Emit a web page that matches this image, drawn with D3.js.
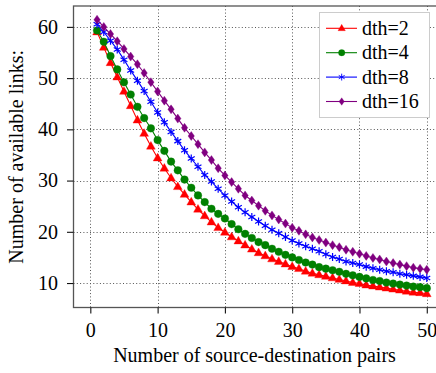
<!DOCTYPE html>
<html>
<head>
<meta charset="utf-8">
<script src="https://cdn.jsdelivr.net/npm/d3@7"></script>
<style>
  body { margin: 0; background: #fff; }
  svg { display: block; }
  svg text { font-family: "Liberation Serif", "Times New Roman", serif !important; fill: #000; }
</style>
</head>
<body>
<svg id="chart" width="436" height="373"></svg>
<script>
// Number of source-destination pairs (x values)
const pairs = d3.range(1, 51);

// Available links for each distance threshold
const dth2 = [59.0, 56.0, 53.0, 50.2, 47.4, 44.6, 41.8, 39.2, 36.7, 34.4,
              32.4, 30.5, 28.8, 27.3, 25.8, 24.4, 23.1, 21.9, 20.8, 19.9,
              19.0, 18.2, 17.4, 16.6, 15.9, 15.3, 14.7, 14.2, 13.7, 13.2,
              12.8, 12.3, 11.9, 11.6, 11.3, 11.0, 10.7, 10.4, 10.1, 9.9,
              9.6, 9.4, 9.2, 9.0, 8.8, 8.6, 8.4, 8.2, 8.1, 7.9];
const dth4 = [59.3, 57.1, 54.3, 51.7, 49.2, 46.8, 44.4, 42.2, 40.2, 37.9,
              35.8, 33.7, 32.0, 30.2, 28.6, 27.1, 25.8, 24.5, 23.5, 22.6,
              21.5, 20.5, 19.6, 18.8, 18.0, 17.4, 16.7, 16.1, 15.5, 15.0,
              14.5, 14.0, 13.6, 13.1, 12.8, 12.5, 12.2, 11.8, 11.5, 11.2,
              10.9, 10.6, 10.4, 10.1, 9.9, 9.7, 9.5, 9.3, 9.2, 9.0];
const dth8 = [60.5, 59.0, 57.3, 55.6, 53.6, 51.5, 49.5, 47.5, 45.4, 43.3,
              41.4, 39.5, 37.7, 35.9, 34.3, 32.7, 31.1, 29.8, 28.4, 27.1,
              25.9, 24.8, 23.8, 22.9, 22.0, 21.2, 20.4, 19.7, 19.0, 18.3,
              17.7, 17.2, 16.7, 16.2, 15.6, 15.1, 14.7, 14.2, 13.9, 13.6,
              13.2, 12.9, 12.6, 12.3, 12.1, 11.8, 11.6, 11.4, 11.2, 11.0];
const dth16 = [61.4, 60.0, 58.6, 57.2, 55.7, 54.2, 52.7, 51.0, 49.2, 47.4,
               45.6, 43.9, 42.1, 40.3, 38.7, 37.1, 35.5, 34.0, 32.4, 31.0,
               29.7, 28.4, 27.1, 26.1, 25.1, 24.1, 23.2, 22.4, 21.6, 20.8,
               20.2, 19.5, 18.9, 18.4, 17.9, 17.4, 17.0, 16.5, 16.1, 15.7,
               15.3, 14.9, 14.6, 14.2, 13.9, 13.6, 13.3, 13.0, 12.8, 12.6];

const seriesLabels = ["dth=2", "dth=4", "dth=8", "dth=16"];
const xTicks = [0, 10, 20, 30, 40, 50];
const yTicks = [10, 20, 30, 40, 50, 60];

const xTitle = "Number of source-destination pairs";
const yTitle = "Number of available links:";

// Styling per series
const colors = ["#ff0000", "#008000", "#0000ff", "#800080"];
const markers = ["triangle", "circle", "asterisk", "diamond"];

const series = [dth2, dth4, dth8, dth16].map((vals, i) => ({
  label: seriesLabels[i],
  color: colors[i],
  marker: markers[i],
  points: pairs.map((p, j) => ({ x: p, y: vals[j] }))
}));

const FONT = '"Liberation Serif", "Times New Roman", serif';
const svg = d3.select("#chart");

const frame = { left: 73.5, top: 6, right: 443.6, bottom: 307.5 };

const x = d3.scaleLinear().domain([-2.5, 52.5]).range([frame.left, frame.right]);

// y range padded by 5% of data span on each side
const allY = [].concat(dth2, dth4, dth8, dth16);
const yMin = d3.min(allY), yMax = d3.max(allY);
const pad = (yMax - yMin) * 0.05;
const y = d3.scaleLinear().domain([yMin - pad, yMax + pad]).range([frame.bottom, frame.top]);

// Dotted grid
const grid = svg.append("g").attr("stroke", "#555").attr("stroke-width", 1)
  .attr("stroke-dasharray", "1,2.3");
grid.selectAll("line.v").data(xTicks).join("line")
  .attr("class", "v")
  .attr("x1", d => Math.round(x(d)) + 0.5).attr("x2", d => Math.round(x(d)) + 0.5)
  .attr("y1", frame.top).attr("y2", frame.bottom);
grid.selectAll("line.h").data(yTicks).join("line")
  .attr("class", "h")
  .attr("y1", d => Math.round(y(d)) + 0.5).attr("y2", d => Math.round(y(d)) + 0.5)
  .attr("x1", frame.left).attr("x2", frame.right);

// Marker shapes
function markerPath(type) {
  switch (type) {
    case "triangle": return "M0,-4.8L4.4,2.9L-4.4,2.9Z";
    case "circle": return d3.symbol(d3.symbolCircle, 46)();
    case "diamond": return "M0,-4.5L3.2,0L0,4.5L-3.2,0Z";
    case "asterisk": {
      const r = 4;
      let p = "";
      for (let k = 0; k < 3; k++) {
        const a = Math.PI / 2 + k * Math.PI / 3;
        const dx = r * Math.cos(a), dy = r * Math.sin(a);
        p += `M${dx},${dy}L${-dx},${-dy}`;
      }
      return p;
    }
  }
}

const line = d3.line().x(d => x(d.x)).y(d => y(d.y));

const plot = svg.append("g");
series.forEach(s => {
  const g = plot.append("g");
  g.append("path")
    .attr("d", line(s.points))
    .attr("fill", "none")
    .attr("stroke", s.color)
    .attr("stroke-width", 1.1);
  g.selectAll("path.m").data(s.points).join("path")
    .attr("class", "m")
    .attr("transform", d => `translate(${x(d.x)},${y(d.y)})`)
    .attr("d", markerPath(s.marker))
    .attr("fill", s.marker === "asterisk" ? "none" : s.color)
    .attr("stroke", s.color)
    .attr("stroke-opacity", s.marker === "asterisk" ? 1 : 0.45)
    .attr("stroke-width", s.marker === "asterisk" ? 1.2 : 0.8);
});

// Axis frame
svg.append("rect")
  .attr("x", frame.left).attr("y", frame.top)
  .attr("width", frame.right - frame.left).attr("height", frame.bottom - frame.top)
  .attr("fill", "none").attr("stroke", "#555").attr("stroke-width", 1.3);

// X axis ticks and labels
const xAxis = svg.append("g").attr("transform", `translate(0,${frame.bottom})`)
  .call(d3.axisBottom(x).tickValues(xTicks).tickSize(6).tickPadding(9).tickFormat(d3.format("d")));
xAxis.attr("font-family", null);
xAxis.select(".domain").remove();
xAxis.selectAll(".tick line").attr("stroke", "#111").attr("stroke-width", 1.1);
xAxis.selectAll(".tick text").attr("font-size", 20).style("font-family", FONT);

// Y axis ticks and labels
const yAxis = svg.append("g").attr("transform", `translate(${frame.left},0)`)
  .call(d3.axisLeft(y).tickValues(yTicks).tickSize(6.5).tickPadding(9).tickFormat(d3.format("d")));
yAxis.attr("font-family", null);
yAxis.select(".domain").remove();
yAxis.selectAll(".tick line").attr("stroke", "#111").attr("stroke-width", 1.1);
yAxis.selectAll(".tick text").attr("font-size", 20).style("font-family", FONT);

// Axis titles
svg.append("text")
  .attr("x", 254.5).attr("y", 362)
  .attr("text-anchor", "middle").attr("font-size", 20)
  .style("font-family", FONT)
  .text(xTitle);
svg.append("text")
  .attr("transform", `translate(23,${(frame.top + frame.bottom) / 2}) rotate(-90)`)
  .attr("text-anchor", "middle").attr("font-size", 20)
  .style("font-family", FONT)
  .text(yTitle);

// Legend
const legend = svg.append("g");
legend.append("rect")
  .attr("x", 319.5).attr("y", 12.5).attr("width", 110).attr("height", 105)
  .attr("fill", "#fff").attr("stroke", "#ccc").attr("stroke-width", 1);
series.forEach((s, i) => {
  const cy = 28.3 + i * 24.4;
  const row = legend.append("g");
  row.append("line")
    .attr("x1", 326).attr("x2", 357).attr("y1", cy).attr("y2", cy)
    .attr("stroke", s.color).attr("stroke-width", 1.1);
  row.append("path")
    .attr("transform", `translate(341.7,${cy}) scale(0.85)`)
    .attr("d", markerPath(s.marker))
    .attr("fill", s.marker === "asterisk" ? "none" : s.color)
    .attr("stroke", s.color)
    .attr("stroke-width", s.marker === "asterisk" ? 1.1 : 0.6)
    .attr("stroke-opacity", s.marker === "asterisk" ? 1 : 0.45);
  row.append("text")
    .attr("x", 362).attr("y", cy + 6.5)
    .attr("font-size", 20)
    .style("font-family", FONT)
    .text(s.label);
});
</script>
</body>
</html>
